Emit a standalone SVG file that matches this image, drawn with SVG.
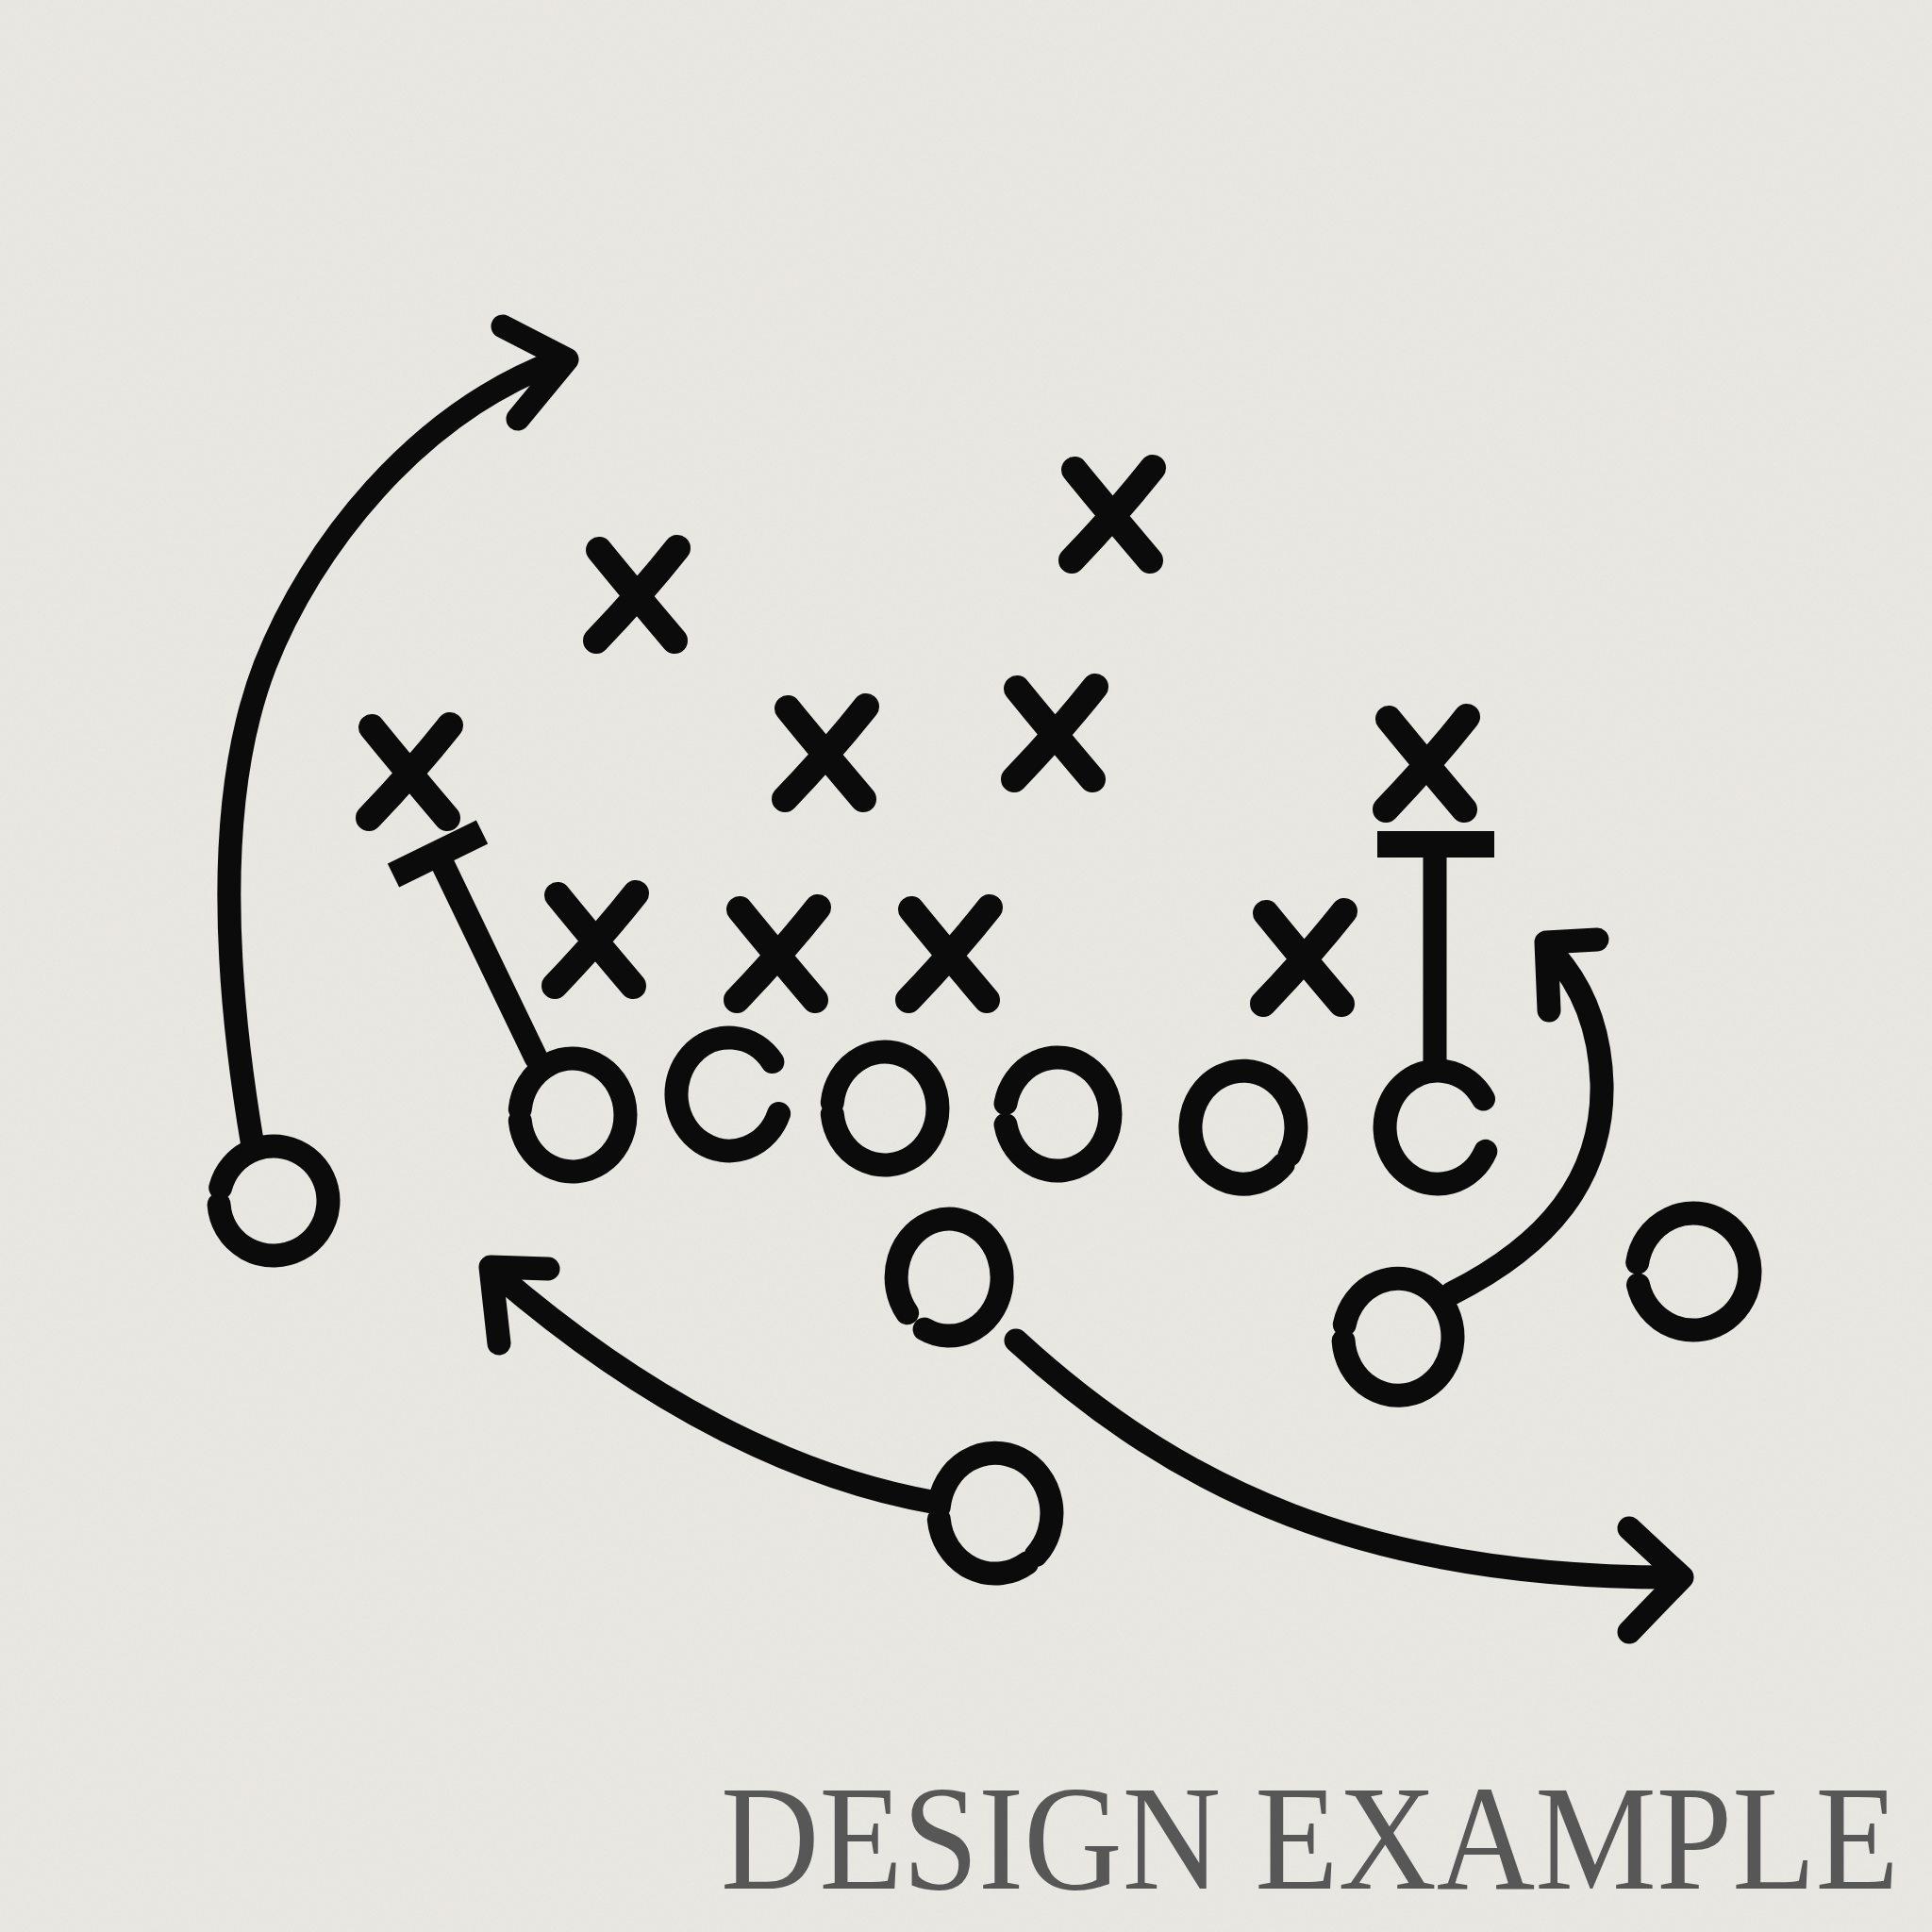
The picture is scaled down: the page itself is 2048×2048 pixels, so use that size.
<svg xmlns="http://www.w3.org/2000/svg" width="2048" height="2048" viewBox="0 0 2048 2048">
<defs>
<style>
.ink{fill:none;stroke:#0b0b0b;stroke-width:25;stroke-linecap:round;stroke-linejoin:round}
.xm{fill:none;stroke:#0b0b0b;stroke-width:28;stroke-linecap:round}
.bar{fill:none;stroke:#0b0b0b;stroke-width:28;stroke-linecap:butt}
.label{font-family:"Liberation Serif","Times New Roman",serif;font-size:158px;fill:#575757}
</style>
<filter id="grain" x="0" y="0" width="100%" height="100%">
<feTurbulence type="fractalNoise" baseFrequency="0.9 0.35" numOctaves="2" seed="3"/>
<feColorMatrix type="matrix" values="0 0 0 0 0.45  0 0 0 0 0.44  0 0 0 0 0.40  0 0 0 0.10 0"/>
</filter>
<path id="xmark" d="M-40,-48 Q-5,-5 40,48 M43,-50 Q5,-2 -43,48"/>
</defs>
<rect width="2048" height="2048" fill="#ebe9e3"/>
<rect width="2048" height="2048" filter="url(#grain)"/>

<g id="connectors" class="ink">
<path d="M268,1215 C240,1050 225,850 281,705 C330,580 440,440 590,383"/>
<polyline points="533,346 601,381 549,444"/>
<path d="M1539,1371 C1640,1320 1700,1250 1698,1149 C1696,1080 1670,1035 1642,1006"/>
<polyline points="1693,996 1639,999 1642,1071"/>
<path d="M993,1593 C860,1570 700,1500 526,1350"/>
<polyline points="581,1345 520,1343 529,1424"/>
<path d="M1077,1421 C1250,1580 1450,1672 1772,1672"/>
<polyline points="1727,1620 1783,1672 1727,1730"/>
<line x1="568" y1="1121" x2="464" y2="905"/>
<line class="bar" x1="417" y1="928" x2="511" y2="882"/>
<line x1="1521" y1="1130" x2="1521" y2="897"/>
<line class="bar" x1="1460" y1="895" x2="1584" y2="895"/>
</g>

<g id="x1" class="xm" transform="translate(675,631)"><use href="#xmark"/></g>
<g id="x2" class="xm" transform="translate(1179,546)"><use href="#xmark"/></g>
<g id="x3" class="xm" transform="translate(434,819)"><use href="#xmark"/></g>
<g id="x4" class="xm" transform="translate(875,799)"><use href="#xmark"/></g>
<g id="x5" class="xm" transform="translate(1118,778)"><use href="#xmark"/></g>
<g id="x6" class="xm" transform="translate(1512,810)"><use href="#xmark"/></g>
<g id="x7" class="xm" transform="translate(631,997)"><use href="#xmark"/></g>
<g id="x8" class="xm" transform="translate(824,1012)"><use href="#xmark"/></g>
<g id="x9" class="xm" transform="translate(1006,1012)"><use href="#xmark"/></g>
<g id="x10" class="xm" transform="translate(1382,1016)"><use href="#xmark"/></g>

<g id="o1" class="ink"><path d="M551.3,1175.7 A56,60 0 1 1 551.3,1188.3"/></g>
<g id="o2" class="ink"><path d="M825.6,1180.5 A56,60 0 1 1 818.9,1125.6"/></g>
<g id="o3" class="ink"><path d="M882.3,1168.7 A56,60 0 1 1 882.3,1181.3"/></g>
<g id="o4" class="ink"><path d="M1066,1169.6 A56,60 0 1 1 1066,1192.4"/></g>
<g id="o5" class="ink"><path d="M1360.3,1234.4 A56,60 0 1 1 1367,1224.1"/></g>
<g id="o6" class="ink"><path d="M1574.8,1220.4 A56,60 0 1 1 1572.5,1165"/></g>
<g id="qb" class="ink"><path d="M961.6,1391.7 A56,62 0 1 1 980.1,1409"/></g>
<g id="o-right" class="ink"><path d="M1425.3,1404.1 A58,62 0 1 1 1424.1,1421.3"/></g>
<g id="o-far-right" class="ink"><path d="M1735.7,1338.3 A60,62 0 1 1 1736.5,1362"/></g>
<g id="o-bottom" class="ink"><path d="M1088.6,1657.1 A60,64 0 0 1 995.3,1610.7 M995.3,1597.3 A60,64 0 1 1 1098.2,1648.5"/></g>
<g id="o-left" class="ink"><path d="M233.7,1259 A58,58 0 1 1 232.1,1277"/></g>

<text class="label" transform="translate(764,2002) scale(0.915,1)">DESIGN EXAMPLE</text>
</svg>
